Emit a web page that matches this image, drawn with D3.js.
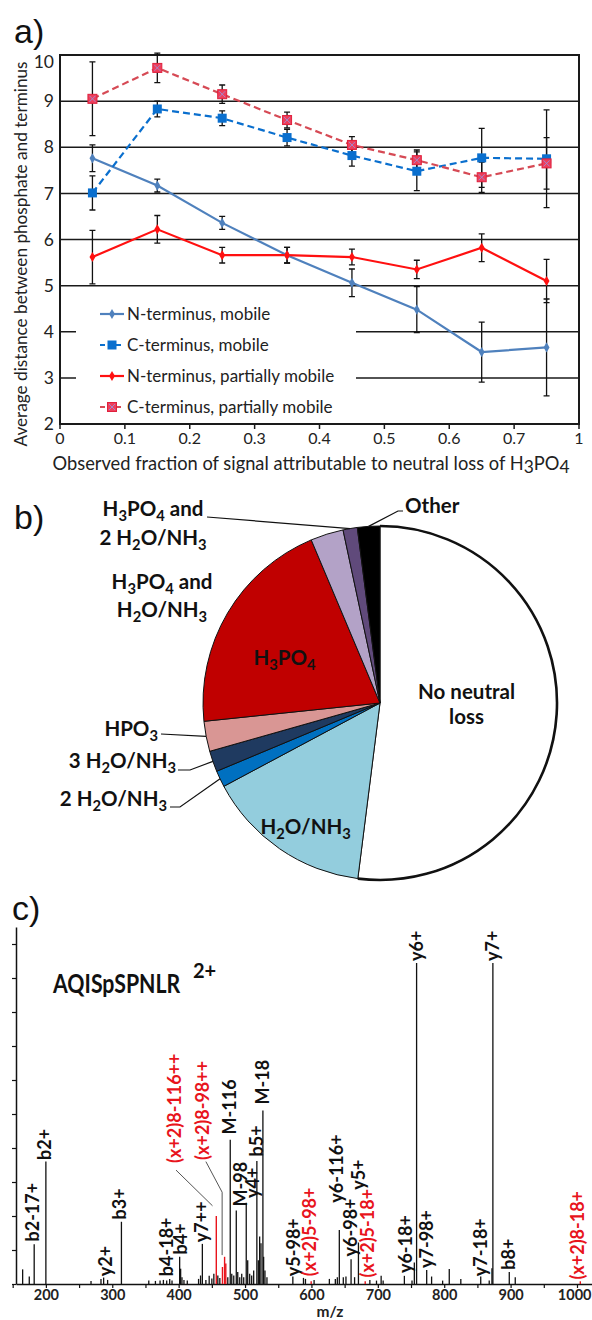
<!DOCTYPE html>
<html>
<head>
<meta charset="utf-8">
<script src="https://cdn.jsdelivr.net/npm/d3@7/dist/d3.min.js"></script>
<style>
  html, body { margin: 0; padding: 0; background: #fff; }
  svg { display: block; }
</style>
</head>
<body>
<svg id="fig" width="592" height="1320"></svg>
<script>
// ---- a) distance between phosphate and terminus ----
const xFrac = [0.05, 0.15, 0.25, 0.35, 0.45, 0.55, 0.65, 0.75];
const nMobile = [7.76, 7.17, 6.36, 5.66, 5.06, 4.48, 3.56, 3.66];
const nMobileErr = [0.29, 0.14, 0.14, 0.17, 0.30, 0.50, 0.65, 1.05];
const cMobile = [7.01, 8.83, 8.63, 8.21, 7.82, 7.48, 7.77, 7.75];
const cMobileErr = [0.37, 0.17, 0.16, 0.18, 0.23, 0.42, 0.64, 1.06];
const nPartial = [5.62, 6.22, 5.66, 5.66, 5.62, 5.35, 5.82, 5.10];
const nPartialErr = [0.58, 0.30, 0.17, 0.17, 0.17, 0.20, 0.30, 0.47];
const cPartial = [9.05, 9.72, 9.15, 8.59, 8.05, 7.72, 7.35, 7.65];
const cPartialErr = [0.80, 0.32, 0.20, 0.17, 0.18, 0.22, 0.33, 0.56];
const xTicksA = [0, 0.1, 0.2, 0.3, 0.4, 0.5, 0.6, 0.7, 0.8];
const xTickLabelsA = ["0", "0.1", "0.2", "0.3", "0.4", "0.5", "0.6", "0.7", "1"];
const yTicksA = [2, 3, 4, 5, 6, 7, 8, 9, 10];

// ---- b) neutral loss pie ----
const pieNames = ["No neutral loss", "H_2O/NH_3", "2 H_2O/NH_3", "3 H_2O/NH_3", "HPO_3",
  "H_3PO_4", "H_3PO_4 and H_2O/NH_3", "H_3PO_4 and 2 H_2O/NH_3", "Other"];
const pieShares = [52.0, 15.2, 1.5, 1.9, 2.75, 20.3, 3.0, 1.3, 2.05];
const pieColors = ["#ffffff", "#93cddd", "#0070c0", "#1f3a60", "#d99694",
  "#c00000", "#b3a2c7", "#604a7b", "#000000"];

// ---- c) spectrum ----
const blackMz = [165, 175, 182.4, 200, 268, 283, 287, 293, 313.8, 355, 365, 372, 377, 382, 386.5, 390,
  401.5, 403, 405, 408, 413, 430, 433, 435.7, 441, 446, 450, 453, 459, 462, 474, 477.7, 480, 483,
  486.8, 489, 492, 495, 498, 501.8, 504, 507, 510, 513, 517.8, 520, 522, 524, 526.9, 528, 530, 533,
  572, 588, 591, 604, 627, 636, 639, 642, 648, 652, 659.7, 665, 670.8, 688, 698, 705, 708, 740,
  751.5, 755, 758.4, 773.6, 781, 797.6, 807.6, 825, 855, 867.8, 871.9, 873.3, 898, 907];
const blackInt = [4.3, 2.2, 11.7, 36.0, 0.9, 1.5, 1.9, 1.2, 18.3, 1.0, 0.9, 1.0, 1.2, 1.0, 1.5, 1.0,
  8.0, 4.5, 2.0, 1.2, 1.0, 1.5, 2.5, 11.8, 1.2, 2.4, 1.6, 3.0, 2.5, 1.8, 2.0, 42.4, 3.0, 2.5,
  21.6, 3.5, 2.0, 3.0, 2.0, 23.9, 7.0, 3.0, 2.5, 4.0, 36.2, 7.0, 14.0, 12.0, 51.0, 8.0, 4.0, 2.0,
  2.2, 1.8, 1.5, 1.2, 1.5, 1.5, 2.0, 15.9, 2.0, 2.2, 7.3, 2.0, 12.2, 1.2, 1.0, 2.4, 1.0, 2.4,
  1.0, 6.3, 94.4, 4.1, 2.2, 1.0, 4.4, 1.5, 2.2, 1.0, 4.6, 94.4, 3.5, 2.0];
const redMz = [456.7, 466, 469.2, 471, 599.6, 681, 1005];
const redInt = [20.0, 5.0, 8.0, 6.0, 0.8, 0.8, 0.8];
// label text, m/z it sits on, intensity at its foot, red?
const peakLabels = [
  ["b2-17+", 180, 12.5, 0], ["b2+", 198.5, 36.5, 0], ["y2+", 290, 2.3, 0], ["b3+", 311.3, 19.0, 0],
  ["b4-18+", 381.5, 2.3, 0], ["b4+", 403, 8.7, 0], ["y7++", 434.6, 12.3, 0],
  ["(x+2)8-116++", 394, 35.6, 1], ["(x+2)8-98++", 436, 36.5, 1],
  ["M-116", 476, 44.0, 0], ["M-98", 493.5, 22.8, 0], ["y4+", 510.5, 25.3, 0],
  ["b5+", 518, 37.5, 0], ["M-18", 525.6, 52.8, 0], ["y5-98+", 573, 2.3, 0],
  ["(x+2)5-98+", 597, 2.3, 1], ["y6-116+", 638.4, 23.9, 0], ["y6-98+", 658.4, 8.1, 0],
  ["y5+", 670.8, 27.7, 0], ["(x+2)5-18+", 684.7, 1.9, 1], ["y6-18+", 741, 3.2, 0],
  ["y6+", 758.4, 95.0, 0], ["y7-98+", 772.6, 4.7, 0], ["y7-18+", 855.3, 2.3, 0],
  ["y7+", 872.7, 95.0, 0], ["b8+", 896.4, 4.2, 0], ["(x+2)8-18+", 1000.6, 1.3, 1]
];
// leader lines for the two displaced labels: [mz, intensity] points
const leaders = [
  [[396, 33.5], [451, 23.0]],
  [[441, 36.0], [465.5, 27.0], [465.5, 8.5]]
];
const mzTicks = d3.range(150, 1001, 50);
const intTicks = d3.range(0, 101, 10);

const FONT = "Lato, 'Open Sans', sans-serif";
const RED = "#e8141c";
const svg = d3.select("#fig");

// H_3PO_4 style strings -> tspans with subscripts
function rich(t, str, shift) {
  let down = false;
  str.split(/(_\d)/).filter((s) => s.length).forEach((p) => {
    if (p[0] === "_") {
      t.append("tspan").attr("dy", down ? 0 : shift).attr("font-size", "0.72em").text(p.slice(1));
      down = true;
    } else {
      t.append("tspan").attr("dy", down ? -shift : 0).text(p);
      down = false;
    }
  });
}

// panel letters
[["a)", 14, 43], ["b)", 14, 529], ["c)", 12, 920]].forEach(([s, x, y]) => {
  svg.append("text").attr("x", x).attr("y", y)
    .attr("font-family", "'Liberation Sans', Arial, sans-serif")
    .attr("font-size", 34).attr("fill", "#111").text(s);
});

// ================= a) =================
const ax = d3.scaleLinear().domain([0, 0.8]).range([60, 579]);
const ay = d3.scaleLinear().domain([2, 10]).range([424, 55]);
const ga = svg.append("g");

// grid
ga.selectAll("line.grid").data(yTicksA.slice(1, -1)).join("line")
  .attr("x1", ax(0)).attr("x2", ax(0.8))
  .attr("y1", (d) => ay(d)).attr("y2", (d) => ay(d))
  .attr("stroke", "#1a1a1a").attr("stroke-width", 1.5);

// legend background hides part of the 3 and 4 grid lines
ga.append("rect").attr("x", 76).attr("y", 297).attr("width", 280).attr("height", 120).attr("fill", "#fff");

// frame
ga.append("rect").attr("x", ax(0)).attr("y", ay(10))
  .attr("width", ax(0.8) - ax(0)).attr("height", ay(2) - ay(10))
  .attr("fill", "none").attr("stroke", "#1a1a1a").attr("stroke-width", 2);

// x ticks
ga.selectAll("line.xt").data(xTicksA).join("line")
  .attr("x1", (d) => ax(d)).attr("x2", (d) => ax(d))
  .attr("y1", ay(2)).attr("y2", ay(2) + 5)
  .attr("stroke", "#1a1a1a").attr("stroke-width", 1.5);
ga.selectAll("text.xl").data(xTicksA).join("text")
  .attr("x", (d) => ax(d)).attr("y", 444)
  .attr("text-anchor", "middle").attr("font-family", FONT).attr("font-size", 16).attr("fill", "#222")
  .text((d, i) => xTickLabelsA[i]);
ga.selectAll("text.yl").data(yTicksA).join("text")
  .attr("x", ax(0) - 6).attr("y", (d) => ay(d) + (d === 10 ? 7 : 0)).attr("dy", "0.35em")
  .attr("text-anchor", "end").attr("font-family", FONT).attr("font-size", 17.5).attr("fill", "#222")
  .text((d) => d);

// axis titles
const xt = ga.append("text").attr("x", 311).attr("y", 470).attr("text-anchor", "middle")
  .attr("font-family", FONT).attr("font-size", 18.3).attr("fill", "#222")
  .text("Observed fraction of signal attributable to neutral loss of H");
xt.append("tspan").attr("dy", 3).attr("font-size", "0.95em").text("3");
xt.append("tspan").attr("dy", -3).text("PO");
xt.append("tspan").attr("dy", 3).attr("font-size", "0.95em").text("4");
ga.append("text").attr("transform", "translate(27,254) rotate(-90)").attr("text-anchor", "middle")
  .attr("font-family", FONT).attr("font-size", 17.2).attr("fill", "#222")
  .text("Average distance between phosphate and terminus");

const seriesA = [
  { name: "N-terminus, mobile", vals: nMobile, err: nMobileErr, color: "#4f81bd", dash: null, mark: "diamond" },
  { name: "C-terminus, mobile", vals: cMobile, err: cMobileErr, color: "#0a6fce", dash: "7,4", mark: "square" },
  { name: "N-terminus, partially mobile", vals: nPartial, err: nPartialErr, color: "#ff1010", dash: null, mark: "diamond" },
  { name: "C-terminus, partially mobile", vals: cPartial, err: cPartialErr, color: "#d64a55", dash: "7,4", mark: "squareX" }
];

function drawMarker(g, s, x, y) {
  if (s.mark === "diamond") {
    g.append("path").attr("d", d3.symbol(d3.symbolDiamond, 30)())
      .attr("transform", `translate(${x},${y})`).attr("fill", s.color);
  } else if (s.mark === "square") {
    g.append("rect").attr("x", x - 4.5).attr("y", y - 4.5).attr("width", 9).attr("height", 9).attr("fill", s.color);
  } else {
    g.append("rect").attr("x", x - 4.5).attr("y", y - 4.5).attr("width", 9).attr("height", 9)
      .attr("fill", "#ee3f5c").attr("stroke", "#e0203c").attr("stroke-width", 1);
    g.append("path").attr("d", `M${x - 3},${y - 3}L${x + 3},${y + 3}M${x - 3},${y + 3}L${x + 3},${y - 3}`)
      .attr("stroke", "#9b8fd6").attr("stroke-width", 0.9);
  }
}

const line = d3.line().x((d, i) => ax(xFrac[i])).y((d) => ay(d));
seriesA.forEach((s) => {
  ga.append("path").attr("d", line(s.vals)).attr("fill", "none")
    .attr("stroke", s.color).attr("stroke-width", 2.2)
    .attr("stroke-dasharray", s.dash);
});
seriesA.forEach((s) => {
  s.vals.forEach((v, i) => {
    const x = ax(xFrac[i]), y1 = ay(v + s.err[i]), y2 = ay(v - s.err[i]);
    ga.append("path").attr("d", `M${x},${y1}V${y2}M${x - 3},${y1}H${x + 3}M${x - 3},${y2}H${x + 3}`)
      .attr("stroke", "#111").attr("stroke-width", 1.3).attr("fill", "none");
  });
});
seriesA.forEach((s) => {
  s.vals.forEach((v, i) => drawMarker(ga, s, ax(xFrac[i]), ay(v)));
});

// legend
seriesA.forEach((s, i) => {
  const y = 314 + i * 31;
  ga.append("line").attr("x1", 100).attr("x2", 124).attr("y1", y).attr("y2", y)
    .attr("stroke", s.color).attr("stroke-width", 2.2).attr("stroke-dasharray", s.dash ? "5,3" : null);
  drawMarker(ga, s, 112, y);
  ga.append("text").attr("x", 127).attr("y", y).attr("dy", "0.36em")
    .attr("font-family", FONT).attr("font-size", 17).attr("fill", "#222").text(s.name);
});

// ================= b) =================
const cx = 380, cy = 703, R = 177;
const arcs = d3.pie().sort(null).value((d) => d)(pieShares);
const arc = d3.arc().innerRadius(0).outerRadius(R);
const gb = svg.append("g").attr("transform", `translate(${cx},${cy})`);
gb.selectAll("path.slice").data(arcs).join("path")
  .attr("d", arc).attr("fill", (d, i) => pieColors[i])
  .attr("stroke", "#111").attr("stroke-width", 1);
gb.append("path").attr("d", d3.arc().innerRadius(R).outerRadius(R)(arcs[0]))
  .attr("fill", "none").attr("stroke", "#111").attr("stroke-width", 2.6);

function edge(i) {
  const a = (arcs[i].startAngle + arcs[i].endAngle) / 2;
  return [cx + R * Math.sin(a), cy - R * Math.cos(a)];
}
function inner(i, f) {
  const a = (arcs[i].startAngle + arcs[i].endAngle) / 2;
  return [cx + f * R * Math.sin(a), cy - f * R * Math.cos(a)];
}
function pieLabel(lines, x, y, anchor, gap = 28) {
  lines.forEach((ln, k) => {
    const t = svg.append("text").attr("x", x).attr("y", y + k * gap)
      .attr("text-anchor", anchor).attr("font-family", FONT).attr("font-weight", 700)
      .attr("font-size", 20.5).attr("fill", "#111");
    rich(t, ln, 5);
  });
}
const splitAnd = (s) => s.includes(" and ") ? [s.split(" and ")[0] + " and", s.split(" and ")[1]] : [s];

// inside labels
let p = inner(0, 0.49);
pieLabel(["No neutral", "loss"], p[0], p[1] - 9, "middle", 25);
p = inner(1, 0.83);
pieLabel([pieNames[1]], p[0] + 9, p[1] + 10, "middle");
p = inner(5, 0.6);
pieLabel([pieNames[5]], p[0] - 4, p[1] + 16, "middle");

// outside labels with leaders
const leader = (pts) => svg.append("path").attr("d", d3.line()(pts))
  .attr("fill", "none").attr("stroke", "#111").attr("stroke-width", 1.2);
pieLabel(splitAnd(pieNames[7]), 153, 516, "middle", 29);
leader([[207, 517], edge(7)]);
pieLabel(splitAnd(pieNames[6]), 162, 589, "middle", 28);
pieLabel([pieNames[8]], 405, 513, "start");
leader([[403, 511], [398, 511], edge(8)]);
pieLabel([pieNames[4]], 158, 736, "end");
leader([[161, 734], edge(4)]);
pieLabel([pieNames[3]], 176, 768, "end");
leader([[178, 770], [190, 770], edge(3)]);
pieLabel([pieNames[2]], 167, 806, "end");
leader([[170, 807], [180, 807], edge(2)]);

// ================= c) =================
const mx = d3.scaleLinear().domain([155, 1022]).range([16, 591.6]);
const iy = d3.scaleLinear().domain([0, 105]).range([1284, 927]);
const gc = svg.append("g");

gc.append("g").attr("transform", `translate(0,${iy(0)})`)
  .call(d3.axisBottom(mx).tickValues(mzTicks).tickSize(4).tickSizeOuter(0)
    .tickFormat((d) => (d % 100 === 0 && d >= 200 ? d : "")))
  .call((g) => {
    g.select(".domain").attr("stroke", "#111").attr("stroke-width", 1.5);
    g.selectAll(".tick line").attr("stroke", "#111").attr("stroke-width", 1.2);
    g.selectAll(".tick text").attr("font-family", FONT).attr("font-weight", 700)
      .attr("font-size", 14.5).attr("fill", "#222").attr("dy", "0.6em")
      .attr("text-anchor", (d) => (d === 1000 ? "end" : "middle"))
      .attr("x", (d) => (d === 1000 ? 14 : 0));
  });
gc.append("g").attr("transform", `translate(${mx(155)},0)`)
  .call(d3.axisLeft(iy).tickValues(intTicks).tickSize(4).tickSizeOuter(0).tickFormat(""))
  .call((g) => {
    g.select(".domain").attr("stroke", "#111").attr("stroke-width", 1.5);
    g.selectAll(".tick line").attr("stroke", "#111").attr("stroke-width", 1.2);
  });

gc.append("text").attr("x", 330).attr("y", 1317).attr("text-anchor", "middle")
  .attr("font-family", FONT).attr("font-weight", 700).attr("font-size", 15.5).attr("fill", "#222").text("m/z");

gc.append("text").attr("transform", "translate(53,993) scale(0.82,1)")
  .attr("font-family", FONT).attr("font-weight", 700).attr("font-size", 26).attr("fill", "#111")
  .text("AQISpSPNLR");
gc.append("text").attr("x", 193).attr("y", 978)
  .attr("font-family", FONT).attr("font-weight", 700).attr("font-size", 20).attr("fill", "#111").text("2+");

// stems
gc.selectAll("line.bk").data(blackMz).join("line")
  .attr("x1", (d) => mx(d)).attr("x2", (d) => mx(d))
  .attr("y1", iy(0)).attr("y2", (d, i) => iy(blackInt[i]))
  .attr("stroke", "#111").attr("stroke-width", 1.3);
gc.selectAll("line.rd").data(redMz).join("line")
  .attr("x1", (d) => mx(d)).attr("x2", (d) => mx(d))
  .attr("y1", iy(0)).attr("y2", (d, i) => iy(redInt[i]))
  .attr("stroke", RED).attr("stroke-width", 1.4);

leaders.forEach((pts) => {
  gc.append("path").attr("d", d3.line().x((d) => mx(d[0])).y((d) => iy(d[1]))(pts))
    .attr("fill", "none").attr("stroke", "#555").attr("stroke-width", 1);
});

gc.selectAll("text.pk").data(peakLabels).join("text")
  .attr("transform", (d) => `translate(${mx(d[1])},${iy(d[2])}) rotate(-90)`)
  .attr("dy", "0.36em")
  .attr("font-family", FONT).attr("font-weight", 700).attr("font-size", 18)
  .attr("fill", (d) => (d[3] ? RED : "#111"))
  .text((d) => d[0]);
</script>
</body>
</html>
